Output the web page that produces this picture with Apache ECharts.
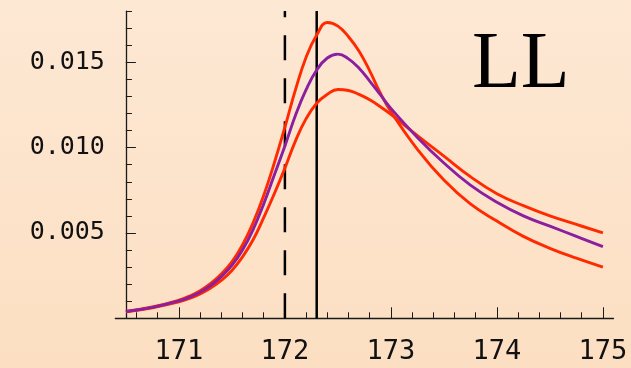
<!DOCTYPE html>
<html>
<head>
<meta charset="utf-8">
<script src="https://cdn.jsdelivr.net/npm/echarts@6/dist/echarts.min.js"></script>
<style>
  html, body { margin: 0; padding: 0; }
  #chart { width: 631px; height: 368px; }
</style>
</head>
<body>
<div id="chart"></div>
<script>
// Invariant-mass distributions near the top threshold (GeV)
const masses = [170.5, 170.75, 171.0, 171.1, 171.2, 171.3, 171.4, 171.5, 171.6, 171.7,
                171.8, 171.9, 172.0, 172.1, 172.2, 172.3, 172.4, 172.5, 172.6, 172.7,
                172.8, 172.9, 173.0, 173.25, 173.5, 173.75, 174.0, 174.25, 174.5, 174.75, 175.0];
const upperBand = [0.00040, 0.00066, 0.00106, 0.00130, 0.00162, 0.00205, 0.00260, 0.00330, 0.00430, 0.00560,
                   0.00720, 0.00910, 0.01120, 0.01340, 0.01530, 0.01660, 0.01733, 0.01712, 0.01650, 0.01565,
                   0.01450, 0.01320, 0.01210, 0.00990, 0.00810, 0.00670, 0.00570, 0.00480, 0.00410, 0.00352, 0.00300];
const central   = [0.00040, 0.00064, 0.00102, 0.00124, 0.00153, 0.00192, 0.00244, 0.00310, 0.00400, 0.00520,
                   0.00670, 0.00840, 0.01010, 0.01190, 0.01340, 0.01455, 0.01525, 0.01548, 0.01520, 0.01465,
                   0.01390, 0.01310, 0.01230, 0.01060, 0.00910, 0.00780, 0.00680, 0.00600, 0.00540, 0.00480, 0.00420];
const lowerBand = [0.00038, 0.00062, 0.00096, 0.00116, 0.00143, 0.00178, 0.00222, 0.00280, 0.00360, 0.00460,
                   0.00590, 0.00730, 0.00880, 0.01040, 0.01170, 0.01260, 0.01312, 0.01341, 0.01335, 0.01312,
                   0.01280, 0.01240, 0.01195, 0.01070, 0.00950, 0.00830, 0.00730, 0.00660, 0.00600, 0.00550, 0.00500];

// Reference masses drawn as vertical lines
const dashedMass = 172.0;
const solidMass = 172.3;

// Axis ranges and tick labels
const xRange = [170.4, 175.1];
const yRange = [0, 0.018];
const yAxisAt = 170.5;
const xMajorTicks = [171, 172, 173, 174, 175];
const yMajorTicks = [0.005, 0.010, 0.015];
const panelLabel = 'LL';

const xMinorTicks = [];
for (let i = 1; i <= 22; i++) xMinorTicks.push(+(170.4 + 0.2 * i).toFixed(1));
const yMinorTicks = [];
for (let i = 1; i <= 18; i++) yMinorTicks.push(+(0.001 * i).toFixed(3));

const W = 631, H = 368;
const grid = { left: 115.3, right: 17.5, top: 11.1, bottom: 49.7 };
const pxPerUnit = (W - grid.left - grid.right) / (xRange[1] - xRange[0]);
const yOffset = -(yAxisAt - xRange[0]) * pxPerUnit;

const pair = ys => masses.map((m, i) => [m, ys[i]]);
const red = '#ff2a00';
const purple = '#8a1fa0';
const axisColor = '#1a1a1a';

const chart = echarts.init(document.getElementById('chart'), null, { renderer: 'canvas' });

const curve = (name, ys, color) => ({
  name, type: 'line', data: pair(ys), smooth: 0.45, symbol: 'none',
  lineStyle: { color, width: 2.9 }, z: 3, silent: true
});

chart.setOption({
  animation: false,
  backgroundColor: {
    type: 'linear', x: 0, y: 0, x2: 0, y2: 1,
    colorStops: [{ offset: 0, color: '#fde8d4' }, { offset: 1, color: '#fcdfc2' }]
  },
  grid: Object.assign({ containLabel: false }, grid),
  xAxis: [
    {
      type: 'value', min: xRange[0], max: xRange[1], position: 'bottom',
      axisLine: { show: true, lineStyle: { color: axisColor, width: 1.3 } },
      axisTick: { show: true, inside: true, length: 11, customValues: xMajorTicks,
                  lineStyle: { color: axisColor, width: 1 } },
      axisLabel: { show: true, customValues: xMajorTicks, margin: 20,
                   fontFamily: 'DejaVu Sans Mono', fontSize: 27, color: '#111',
                   formatter: v => String(Math.round(v)) },
      splitLine: { show: false }
    },
    {
      type: 'value', min: xRange[0], max: xRange[1], position: 'bottom', offset: 0,
      axisLine: { show: false },
      axisTick: { show: true, inside: true, length: 6, customValues: xMinorTicks,
                  lineStyle: { color: axisColor, width: 1 } },
      axisLabel: { show: false },
      splitLine: { show: false }
    }
  ],
  yAxis: [
    {
      type: 'value', min: yRange[0], max: yRange[1], position: 'left', offset: yOffset,
      axisLine: { show: true, onZero: false, lineStyle: { color: axisColor, width: 1.3 } },
      axisTick: { show: true, inside: true, length: 10, customValues: yMajorTicks,
                  lineStyle: { color: axisColor, width: 1 } },
      axisLabel: { show: true, customValues: yMajorTicks, margin: 21,
                   fontFamily: 'DejaVu Sans Mono', fontSize: 25, color: '#111',
                   formatter: v => v.toFixed(3) },
      splitLine: { show: false }
    },
    {
      type: 'value', min: yRange[0], max: yRange[1], position: 'left', offset: yOffset,
      axisLine: { show: false },
      axisTick: { show: true, inside: true, length: 6, customValues: yMinorTicks,
                  lineStyle: { color: axisColor, width: 1 } },
      axisLabel: { show: false },
      splitLine: { show: false }
    }
  ],
  series: [
    {
      name: 'dashed', type: 'line', data: [[dashedMass, yRange[0]], [dashedMass, yRange[1]]],
      symbol: 'none', lineStyle: { color: '#000', width: 2.5, type: [25, 18] }, z: 2, silent: true
    },
    {
      name: 'solid', type: 'line', data: [[solidMass, yRange[0]], [solidMass, yRange[1]]],
      symbol: 'none', lineStyle: { color: '#000', width: 2.5 }, z: 2, silent: true
    },
    curve('upper', upperBand, red),
    curve('lower', lowerBand, red),
    curve('central', central, purple)
  ],
  graphic: [{
    type: 'text', left: 472, top: 26,
    style: { text: panelLabel, font: '80px "Liberation Serif"', fill: '#000' }
  }]
});
</script>
</body>
</html>
